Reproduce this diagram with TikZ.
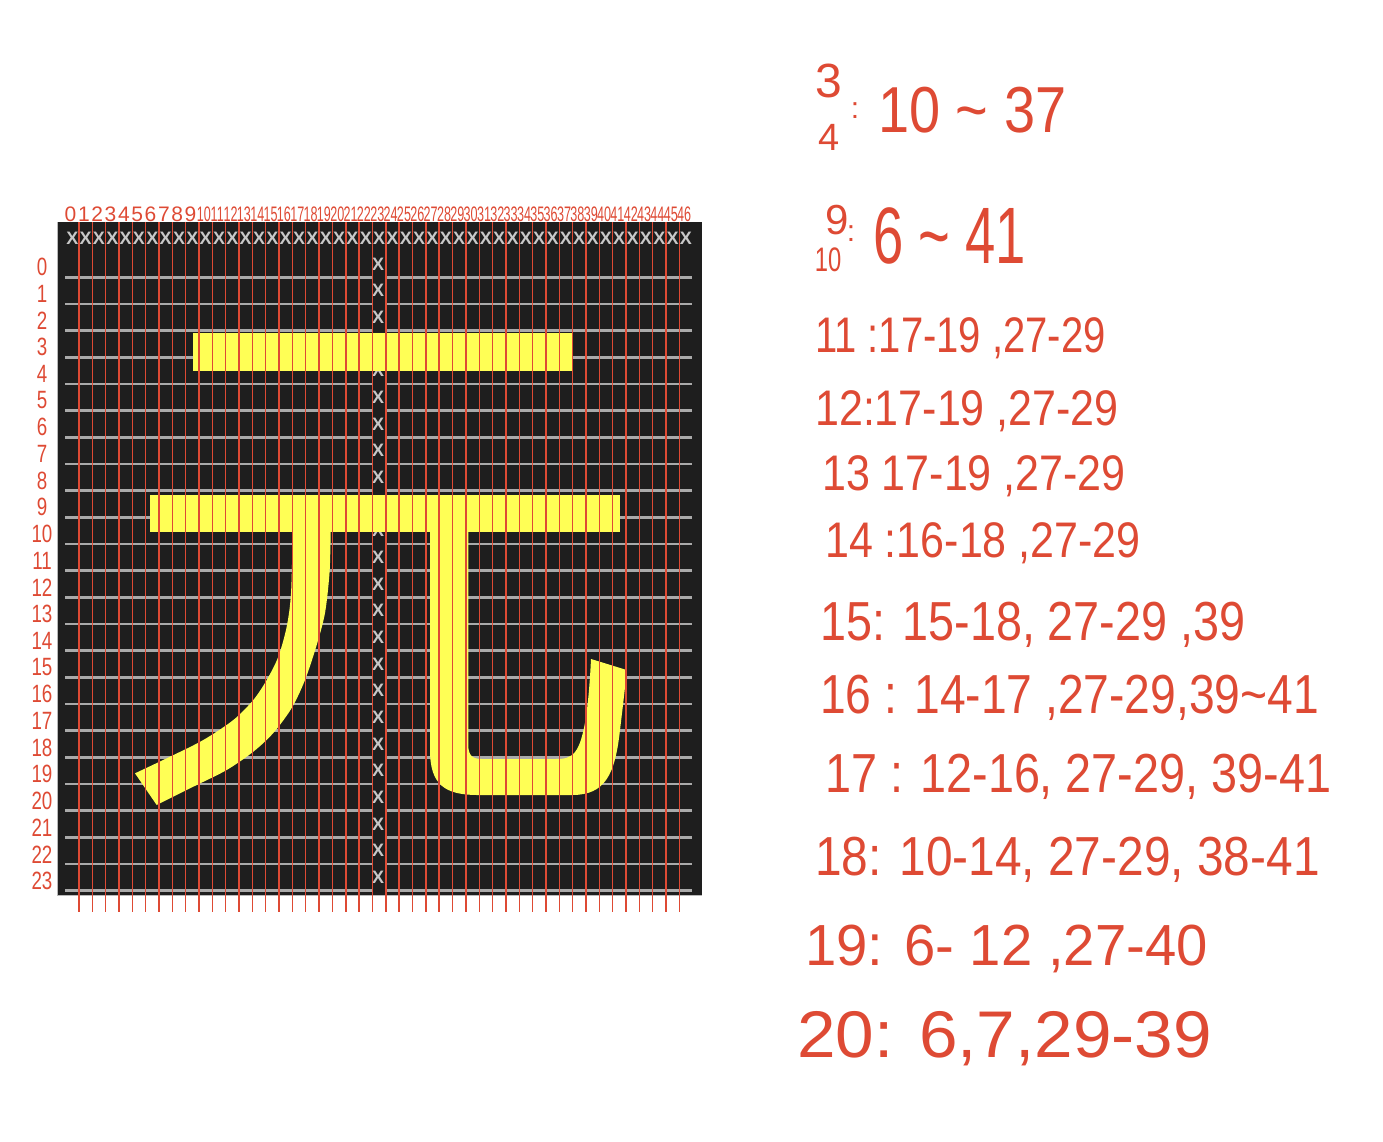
\documentclass[tikz,border=0pt]{standalone}
\usepackage{fontspec}
\setmainfont{Liberation Sans}
\definecolor{ink}{RGB}{222,74,52}
\definecolor{board}{RGB}{30,30,30}
\definecolor{wire}{RGB}{170,170,170}
\definecolor{chalk}{RGB}{200,200,200}
\definecolor{lamp}{RGB}{255,255,85}
\def\fs#1{\fontsize{#1}{#1}\selectfont}
\def\tl{\textasciitilde}

\begin{document}
\begin{tikzpicture}[x=1pt,y=-1pt,
    hand/.style={text=ink,inner sep=0pt},
    note/.style={hand,anchor=base west,font=\fs{50}},
    xcell/.style={text=chalk,inner sep=0pt,font=\bfseries\fs{18}},
    glyph/.style={fill=lamp}]
  \def\gx{13.34}
  \def\gy{26.67}
  \useasboundingbox (0,0) rectangle (1383,1141);
  \fill[board] (57,222) rectangle (702,895);
  \draw[gray!55,line width=1pt] (57,222) -- (57,895) -- (702,895);

  \foreach \i in {0,...,23} {
    \draw[wire,line width=2.8pt] (65,277.3+\gy*\i) -- (372,277.3+\gy*\i);
    \draw[wire,line width=2.8pt] (386,277.3+\gy*\i) -- (692,277.3+\gy*\i);
    \node[xcell] (c\i) at (378,264+\gy*\i) {X};
  }
  \foreach \i in {0,...,46}
    \node[xcell] (t\i) at (72.3+\gx*\i,238) {X};

  \fill[glyph] (193,333) rectangle (572,371);
  \fill[glyph] (150,495) rectangle (620,532);
  \fill[glyph] plot[smooth] coordinates {(330.7,525) (330.7,532) (329.5,573) (325,613)
      (316.7,645) (305,680) (291.7,708) (273.3,733) (253.3,751.7) (226.7,770)
      (193.3,786.7) (156.7,805)}
    -- plot[smooth] coordinates {(135,773.3) (170,756.7) (203.3,740) (233.3,720)
      (253.3,700) (266.7,680) (278.3,656.7) (286.7,626.7) (291,593.3) (292.7,532)
      (292.7,525)} -- cycle;
  \fill[glyph] (430,525) -- (430,750) .. controls (430,785) and (445,795) .. (478,795)
    -- (572,795) .. controls (605,795) and (615,775) .. (620,730)
    .. controls (623,705) and (626,680) .. (626.7,670) -- (591,659)
    .. controls (589,700) and (585,740) .. (575,752)
    .. controls (570,758) and (565,759) .. (555,759) -- (482,759)
    .. controls (472,759) and (468.3,755) .. (468.3,745) -- (468.3,525) -- cycle;

  \foreach \i in {0,...,45}
    \draw[ink,line width=1.4pt] (79+\gx*\i,222) -- (79+\gx*\i,912);

  \foreach \i in {0,...,46} {
    \pgfmathsetmacro{\sx}{\i<10 ? 1 : 0.6}
    \node[hand,anchor=base,font=\fs{21},xscale=\sx] (top\i) at (70.5+\gx*\i,221) {\i};
  }
  \foreach \i in {0,...,23}
    \node[hand,font=\fs{25},xscale=0.75] (row\i) at (42,267+26.7*\i) {\i};

  \node[hand,font=\fs{48}] (k3) at (829,81) {3};
  \node[hand,font=\fs{38}] (k4) at (829,137) {4};
  \node[hand,font=\fs{30}] (k34) at (855,111) {:};
  \node[note,font=\fs{65},xscale=0.86] (n1) at (878,132) {10 \tl{} 37};
  \node[hand,font=\fs{42}] (k9) at (837,220) {9};
  \node[hand,font=\fs{34},xscale=0.7] (k10) at (828,260) {10};
  \node[hand,font=\fs{30}] (k910) at (851,234) {:};
  \node[note,font=\fs{80},xscale=0.68] (n2) at (873,263) {6 \tl{} 41};
  \node[note,xscale=0.8] (n3) at (815,352) {11 :17-19 ,27-29};
  \node[note,xscale=0.86] (n4) at (815,425) {12:17-19 ,27-29};
  \node[note,xscale=0.86] (n5) at (822,490) {13 17-19 ,27-29};
  \node[note,xscale=0.86] (n6) at (825,557) {14 :16-18 ,27-29};
  \node[note,font=\fs{55},xscale=0.85] (n7) at (820,640) {15: 15-18, 27-29 ,39};
  \node[note,font=\fs{55},xscale=0.84] (n8) at (820,713) {16 : 14-17 ,27-29,39\tl 41};
  \node[note,font=\fs{55},xscale=0.85] (n9) at (825,792) {17 : 12-16, 27-29, 39-41};
  \node[note,font=\fs{55},xscale=0.87] (n10) at (815,875) {18: 10-14, 27-29, 38-41};
  \node[note,font=\fs{58},xscale=0.97] (n11) at (805,965) {19: 6- 12 ,27-40};
  \node[note,font=\fs{66},xscale=1.05] (n12) at (797,1057) {20: 6,7,29-39};
\end{tikzpicture}
\end{document}
